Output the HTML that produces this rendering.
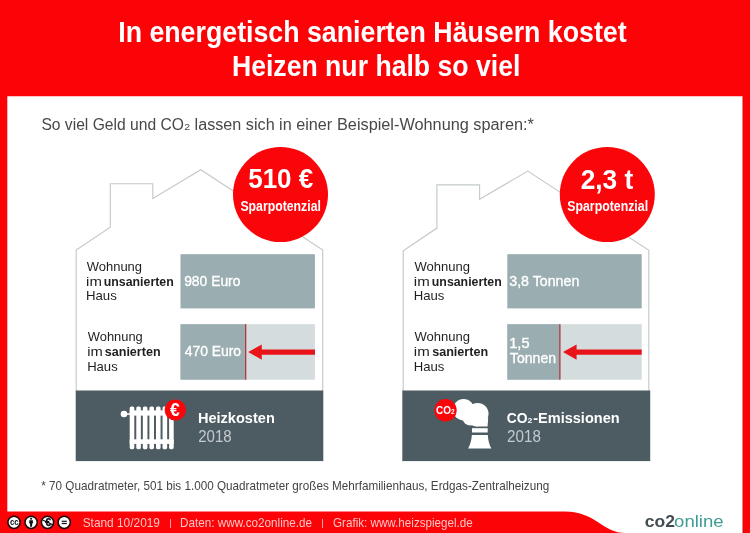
<!DOCTYPE html>
<html lang="de">
<head>
<meta charset="utf-8">
<title>In energetisch sanierten Häusern kostet Heizen nur halb so viel</title>
<style>
html,body{margin:0;padding:0;background:#fc0307;}
body{width:750px;height:533px;overflow:hidden;}
svg{display:block;}
text{font-family:"Liberation Sans",sans-serif;}
.b{font-weight:bold;}
.m{stroke:#fff;stroke-width:0.35px;}
</style>
</head>
<body>
<svg width="750" height="533" viewBox="0 0 750 533">
  <rect x="0" y="0" width="750" height="533" fill="#fc0307"/>
  <path d="M7.3 96.3 H742.7 V533 H626 C602 533 596 511.4 565 511.4 H7.3 Z" fill="#ffffff"/>
  <rect x="742.7" y="96.3" width="0.9" height="437" fill="#d80a0a"/>
  <text x="118.21" y="41.6" font-size="29" fill="#fff" class="b" textLength="508.42" lengthAdjust="spacingAndGlyphs">In energetisch sanierten Häusern kostet</text>
  <text x="231.92" y="75.6" font-size="29" fill="#fff" class="b" textLength="288.47" lengthAdjust="spacingAndGlyphs">Heizen nur halb so viel</text>
  <text x="41.39" y="129.7" font-size="17.3" fill="#484848" textLength="142.66" lengthAdjust="spacingAndGlyphs">So viel Geld und CO</text>
  <text x="184.37" y="129.7" font-size="8.6" fill="#484848" textLength="5.86" lengthAdjust="spacingAndGlyphs">2</text>
  <text x="194.61" y="129.7" font-size="17.3" fill="#484848" textLength="137.56" lengthAdjust="spacingAndGlyphs">lassen sich in einer</text>
  <text x="336.97" y="129.7" font-size="17.3" fill="#484848" textLength="196.99" lengthAdjust="spacingAndGlyphs">Beispiel-Wohnung sparen:*</text>
  <g id="left">
  <path d="M76.2 391 V250 L110.3 227.2 V183.7 H152.8 V198.4 L200.8 169.7 L322.7 250 V391" fill="none" stroke="#c4c9c9" stroke-width="1.15"/>
  <circle cx="280.5" cy="194.5" r="47.5" fill="#fa050a"/>
  <text x="248.2" y="188.3" font-size="26.8" fill="#fff" class="b" textLength="65.06" lengthAdjust="spacingAndGlyphs">510 €</text>
  <text x="240.45" y="210.6" font-size="14" fill="#fff" class="b" textLength="80.42" lengthAdjust="spacingAndGlyphs">Sparpotenzial</text>
  <rect x="180.5" y="254.2" width="134.4" height="54.2" fill="#9aadb0"/>
  <rect x="180.5" y="324.2" width="134.4" height="55.5" fill="#d5dcdd"/>
  <rect x="180.5" y="324.2" width="65" height="55.5" fill="#9aadb0"/>
  <rect x="245.1" y="324.2" width="1.2" height="55.5" fill="#b52a2e"/>
  <path d="M248.2 352.1 L261.8 344.5 V349.6 H315 V354.7 H261.8 V359.7 Z" fill="#e9141a"/>
  <text x="86.74" y="271.1" font-size="13.6" fill="#1f1f1f" textLength="55.29" lengthAdjust="spacingAndGlyphs">Wohnung</text>
    <text x="86.1" y="285.7" font-size="13.6" fill="#1f1f1f" textLength="15.79" lengthAdjust="spacingAndGlyphs">im</text>
    <text x="103.73" y="285.7" font-size="13.6" fill="#1f1f1f" class="b" textLength="70.03" lengthAdjust="spacingAndGlyphs">unsanierten</text>
    <text x="85.92" y="300.4" font-size="13.6" fill="#1f1f1f" textLength="30.86" lengthAdjust="spacingAndGlyphs">Haus</text>
    <text x="87.84" y="340.9" font-size="13.6" fill="#1f1f1f" textLength="54.88" lengthAdjust="spacingAndGlyphs">Wohnung</text>
    <text x="87.21" y="356.0" font-size="13.6" fill="#1f1f1f" textLength="15.56" lengthAdjust="spacingAndGlyphs">im</text>
    <text x="104.76" y="356.0" font-size="13.6" fill="#1f1f1f" class="b" textLength="55.82" lengthAdjust="spacingAndGlyphs">sanierten</text>
    <text x="87.13" y="371.2" font-size="13.6" fill="#1f1f1f" textLength="30.55" lengthAdjust="spacingAndGlyphs">Haus</text>
  <text x="184.15" y="285.6" font-size="13.9" fill="#fff" class="m" textLength="56.33" lengthAdjust="spacingAndGlyphs">980 Euro</text>
  <text x="184.68" y="356" font-size="13.9" fill="#fff" class="m" textLength="56.4" lengthAdjust="spacingAndGlyphs">470 Euro</text>
  <rect x="75.7" y="390.5" width="247.6" height="70.6" fill="#4d5c62"/>
  <g fill="#fff">
      <circle cx="124" cy="414" r="3.3"/>
      <rect x="124" y="413.3" width="8" height="1.5"/>
      <rect x="129.7" y="410.4" width="44" height="5.2"/>
      <rect x="129.7" y="439.3" width="44" height="4.6"/>
      <rect x="129.7" y="406.4" width="4.6" height="42.8" rx="1.6"/>
      <rect x="136.27" y="406.4" width="4.6" height="42.8" rx="1.6"/>
      <rect x="142.84" y="406.4" width="4.6" height="42.8" rx="1.6"/>
      <rect x="149.41" y="406.4" width="4.6" height="42.8" rx="1.6"/>
      <rect x="155.98" y="406.4" width="4.6" height="42.8" rx="1.6"/>
      <rect x="162.55" y="406.4" width="4.6" height="42.8" rx="1.6"/>
      <rect x="169.1" y="406.4" width="4.6" height="42.8" rx="1.6"/>
    </g>
  <circle cx="175.3" cy="410" r="10.6" fill="#fa050a"/>
  <text x="174.9" y="416.3" font-size="17.5" fill="#fff" class="b" text-anchor="middle">€</text>
  <text x="197.93" y="423.1" font-size="14.8" fill="#fff" class="b" textLength="76.88" lengthAdjust="spacingAndGlyphs">Heizkosten</text>
  <text x="198.24" y="441.6" font-size="17" fill="#c3cbce" textLength="33.41" lengthAdjust="spacingAndGlyphs">2018</text>
  </g>
  <g id="right">
  <path d="M403.2 391 V250.7 L436.9 228.1 V184.8 H479.6 V199.3 L527.8 171.1 L648.8 250.2 V391" fill="none" stroke="#c4c9c9" stroke-width="1.15"/>
  <circle cx="607.3" cy="194.5" r="47.5" fill="#fa050a"/>
  <text x="580.69" y="188.5" font-size="27.6" fill="#fff" class="b" textLength="52.63" lengthAdjust="spacingAndGlyphs">2,3 t</text>
  <text x="567.24" y="210.6" font-size="14" fill="#fff" class="b" textLength="80.83" lengthAdjust="spacingAndGlyphs">Sparpotenzial</text>
  <rect x="507.3" y="254.2" width="134.4" height="54.2" fill="#9aadb0"/>
  <rect x="507.3" y="324.2" width="134.4" height="55.5" fill="#d5dcdd"/>
  <rect x="507.3" y="324.2" width="52.5" height="55.5" fill="#9aadb0"/>
  <rect x="559.3" y="324.2" width="1.2" height="55.5" fill="#b52a2e"/>
  <path d="M563 352.1 L576.6 344.5 V349.6 H641.7 V354.7 H576.6 V359.7 Z" fill="#e9141a"/>
  <text x="414.54" y="271.1" font-size="13.6" fill="#1f1f1f" textLength="55.59" lengthAdjust="spacingAndGlyphs">Wohnung</text>
    <text x="413.89" y="285.7" font-size="13.6" fill="#1f1f1f" textLength="15.9" lengthAdjust="spacingAndGlyphs">im</text>
    <text x="431.83" y="285.7" font-size="13.6" fill="#1f1f1f" class="b" textLength="69.93" lengthAdjust="spacingAndGlyphs">unsanierten</text>
    <text x="413.72" y="300.4" font-size="13.6" fill="#1f1f1f" textLength="30.65" lengthAdjust="spacingAndGlyphs">Haus</text>
    <text x="414.54" y="340.9" font-size="13.6" fill="#1f1f1f" textLength="55.59" lengthAdjust="spacingAndGlyphs">Wohnung</text>
    <text x="413.89" y="356.0" font-size="13.6" fill="#1f1f1f" textLength="15.9" lengthAdjust="spacingAndGlyphs">im</text>
    <text x="432.16" y="356.0" font-size="13.6" fill="#1f1f1f" class="b" textLength="56.02" lengthAdjust="spacingAndGlyphs">sanierten</text>
    <text x="413.72" y="371.2" font-size="13.6" fill="#1f1f1f" textLength="30.65" lengthAdjust="spacingAndGlyphs">Haus</text>
  <text x="509.27" y="285.6" font-size="13.9" fill="#fff" class="m" textLength="70.03" lengthAdjust="spacingAndGlyphs">3,8 Tonnen</text>
  <text x="509.29" y="347.5" font-size="13.9" fill="#fff" class="m" textLength="20.22" lengthAdjust="spacingAndGlyphs">1,5</text>
  <text x="509.89" y="363.2" font-size="13.9" fill="#fff" class="m" textLength="46.19" lengthAdjust="spacingAndGlyphs">Tonnen</text>
  <rect x="402.3" y="390.5" width="247.9" height="70.6" fill="#4d5c62"/>
  <g fill="#fff">
      <circle cx="463.6" cy="409.8" r="10.7"/>
      <circle cx="477.6" cy="413.8" r="10.9"/>
      <circle cx="470.5" cy="417.5" r="8"/>
      <circle cx="476" cy="419.8" r="6.8"/>
      <path d="M474 418 H488.2 L487.6 426.6 H476 Z"/>
      <rect x="472" y="428.2" width="15.7" height="4.3"/>
      <path d="M471.9 435 H487.8 C488.1 440.5 489.5 445 491.3 448.6 H468.1 C470 445 471.5 440.5 471.9 435 Z"/>
    </g>
  <circle cx="445.5" cy="410.3" r="11.2" fill="#fa050a"/>
  <text x="445.3" y="414.2" font-size="10" fill="#fff" class="b" text-anchor="middle">CO<tspan font-size="6.5">2</tspan></text>
  <text x="506.73" y="423.1" font-size="14.8" fill="#fff" class="b" textLength="20.75" lengthAdjust="spacingAndGlyphs">CO</text>
  <text x="527.5" y="423.1" font-size="7.6" fill="#fff" class="b" textLength="4.85" lengthAdjust="spacingAndGlyphs">2</text>
  <text x="533.23" y="423.1" font-size="14.8" fill="#fff" class="b" textLength="86.37" lengthAdjust="spacingAndGlyphs">-Emissionen</text>
  <text x="507.04" y="441.6" font-size="17" fill="#c3cbce" textLength="33.83" lengthAdjust="spacingAndGlyphs">2018</text>
  </g>
  <text x="41.31" y="490" font-size="12.2" fill="#444" textLength="507.94" lengthAdjust="spacingAndGlyphs">* 70 Quadratmeter, 501 bis 1.000 Quadratmeter großes Mehrfamilienhaus, Erdgas-Zentralheizung</text>
  <g>
    <g fill="#fff" stroke="#1a0a0a" stroke-width="1.5">
      <circle cx="14" cy="522.3" r="6.1"/>
      <circle cx="31.1" cy="522.3" r="6.1"/>
      <circle cx="47.5" cy="522.3" r="6.1"/>
      <circle cx="64.2" cy="522.3" r="6.1"/>
    </g>
    <text class="b" x="10" y="524.9" font-size="9.2" fill="#111" textLength="8.7" lengthAdjust="spacingAndGlyphs">cc</text>
    <circle cx="31.1" cy="518.7" r="1.05" fill="#111"/>
    <path d="M29.3 520.3 H32.9 V523.6 H32.1 V526.8 H30.1 V523.6 H29.3 Z" fill="#111"/>
    <text class="b" x="48.2" y="526.1" font-size="10.5" fill="#111" stroke="#111" stroke-width="0.35" text-anchor="middle">€</text>
    <path d="M42.6 519.9 L53.3 525" stroke="#111" stroke-width="1.1" fill="none"/>
    <rect x="61.7" y="520.7" width="5.1" height="1.2" fill="#111"/>
    <rect x="61.7" y="522.9" width="5.1" height="1.2" fill="#111"/>
  </g>
  <text x="82.66" y="527" font-size="12.2" fill="#fcc4c4" textLength="77.3" lengthAdjust="spacingAndGlyphs">Stand 10/2019</text>
  <text x="169.3" y="526.4" font-size="9.5" fill="#fcc4c4">|</text>
  <text x="180.04" y="527" font-size="12.2" fill="#fcc4c4" textLength="132.07" lengthAdjust="spacingAndGlyphs">Daten: www.co2online.de</text>
  <text x="321.2" y="526.4" font-size="9.5" fill="#fcc4c4">|</text>
  <text x="333.02" y="527" font-size="12.2" fill="#fcc4c4" textLength="139.8" lengthAdjust="spacingAndGlyphs">Grafik: www.heizspiegel.de</text>
  <text x="644.72" y="526.5" font-size="17.3" fill="#404d52" class="b" textLength="30.19" lengthAdjust="spacingAndGlyphs">co2</text>
  <text x="674.12" y="526.5" font-size="17.3" fill="#3f9c92" textLength="49.5" lengthAdjust="spacingAndGlyphs">online</text>
</svg>
</body>
</html>
